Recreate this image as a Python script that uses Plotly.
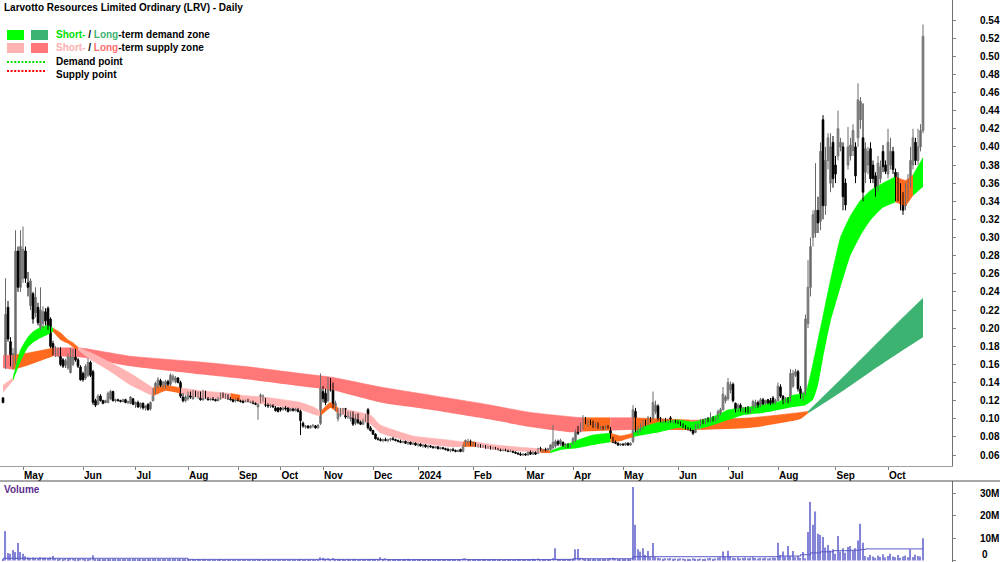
import plotly.graph_objects as go

# ---------------- DATA ----------------
# one bar per traded day, Apr 2023 .. Oct 2024 (bar index = position on axis)
open_ = [
    # Apr 2023
    .123, .160, .223, .185, .160, .165, .285, .245,
    # May
    .255, .285, .250, .225, .238, .217, .223, .201, .205, .218, .222, .210, .183, .172, .171, .177, .165, .159, .156, .151, .160, .175, .165, .157,
    # Jun
    .150, .145, .148, .162, .152, .120, .116, .125, .120, .118, .118, .122, .130, .120, .121, .120, .119, .121, .118, .117, .122,
    # Jul
    .116, .118, .113, .117, .112, .116, .111, .120, .128, .135, .142, .136, .134, .141, .138, .143, .141, .145, .140, .124, .120,
    # Aug
    .122, .128, .122, .128, .124, .128, .121, .126, .122, .121, .122, .121, .120, .122, .127, .123, .125, .122, .121, .120,
    # Sep
    .121, .120, .120, .119, .120, .118, .118, .117, .113, .118, .120, .122, .115, .114, .115, .112, .112,
    # Oct
    .112, .110, .112, .112, .109, .111, .109, .110, .108, .095, .091, .092, .090, .092, .092, .090, .095,
    # Nov
    .130, .128, .120, .142, .135, .112, .100, .104, .107, .111, .102, .100, .106, .095, .104, .096, .094, .098, .110, .090,
    # Dec
    .087, .083, .078, .077, .076, .077, .076, .077, .078, .077, .076, .075, .074, .075, .073, .074, .072, .073,
    # Jan 2024
    .071, .072, .070, .071, .069, .070, .069, .068, .069, .067, .068, .067, .066, .065, .066, .065, .064, .066, .064, .070, .073, .075,
    # Feb
    .071, .073, .070, .071, .069, .070, .068, .069, .067, .068, .067, .066, .065, .066, .065, .064, .064, .063, .062, .061, .060,
    # Mar
    .061, .060, .063, .061, .063, .062, .067, .065, .066, .065, .066, .068, .070, .075, .072, .074, .070, .072, .069,
    # Apr
    .072, .076, .090, .086, .090, .100, .093, .098, .096, .092, .095, .090, .091, .089, .092, .090, .079, .074, .073, .071,
    # May
    .072, .071, .073, .071, .075, .108, .085, .088, .090, .097, .094, .100, .100, .108, .114, .100, .097, .099, .097, .101, .097, .098,
    # Jun
    .096, .096, .093, .091, .089, .088, .087, .085, .090, .093, .097, .095, .100, .097, .101, .098, .100, .106, .110, .120,
    # Jul
    .122, .132, .138, .117, .110, .115, .108, .112, .112, .107, .110, .114, .118, .114, .121, .117, .121, .120, .123, .118,
    # Aug
    .120, .135, .125, .118, .122, .120, .136, .148, .152, .133, .125, .128, .205, .245, .300, .305, .330, .318, .430, .335, .385, .360, .405,
    # Sep
    .380, .390, .400, .400, .360, .380, .390, .396, .400, .410, .430, .410, .372, .380, .398, .380, .368, .355, .365, .395, .380,
    # Oct
    .370, .380, .395, .372, .365, .355, .345, .335, .345, .360, .380, .405, .385, .400, .418,
]
high = [
    .124, .255, .230, .190, .178, .308, .290, .308,
    .312, .290, .262, .255, .240, .245, .228, .245, .224, .222, .224, .212, .186, .180, .179, .179, .167, .166, .172, .178, .177, .177, .167, .159,
    .152, .160, .167, .164, .154, .122, .127, .127, .121, .121, .130, .132, .131, .122, .122, .121, .122, .122, .120, .125, .123,
    .119, .120, .118, .118, .115, .117, .119, .134, .141, .146, .144, .142, .143, .143, .150, .149, .147, .146, .142, .128, .126,
    .130, .130, .132, .131, .130, .130, .132, .131, .124, .123, .124, .122, .124, .129, .129, .128, .127, .124, .122, .122,
    .123, .121, .121, .121, .122, .120, .120, .118, .117, .128, .127, .123, .117, .116, .116, .114, .113,
    .113, .113, .114, .113, .112, .112, .112, .112, .110, .097, .093, .093, .093, .094, .093, .094, .150,
    .136, .133, .146, .145, .140, .120, .112, .112, .112, .112, .108, .108, .108, .105, .106, .098, .100, .105, .112, .092,
    .088, .084, .080, .079, .078, .079, .078, .079, .080, .078, .077, .077, .076, .076, .075, .075, .074, .074,
    .073, .073, .072, .072, .071, .071, .070, .070, .070, .069, .069, .068, .068, .067, .068, .066, .066, .067, .072, .077, .078, .077,
    .075, .074, .072, .072, .071, .071, .070, .070, .069, .069, .068, .067, .067, .067, .066, .066, .065, .064, .063, .063, .062,
    .062, .064, .065, .064, .064, .068, .069, .067, .068, .068, .072, .093, .077, .077, .078, .075, .073, .073, .072,
    .080, .088, .092, .096, .104, .102, .099, .099, .098, .096, .096, .092, .092, .093, .093, .091, .080, .076, .074, .073,
    .073, .074, .074, .074, .115, .112, .092, .095, .099, .099, .103, .102, .130, .120, .116, .102, .100, .101, .100, .103, .099, .099,
    .098, .097, .095, .093, .091, .090, .088, .094, .095, .100, .100, .101, .102, .107, .103, .102, .110, .112, .135, .126,
    .145, .141, .140, .118, .117, .117, .113, .113, .114, .112, .121, .121, .120, .123, .123, .121, .122, .123, .125, .122,
    .140, .138, .126, .124, .124, .155, .154, .155, .154, .136, .130, .215, .275, .300, .330, .382, .345, .405, .435, .400, .415, .415, .412,
    .390, .440, .410, .405, .365, .422, .410, .425, .405, .470, .455, .448, .405, .400, .405, .385, .372, .390, .385, .402, .385,
    .420, .410, .400, .376, .372, .360, .350, .360, .370, .400, .420, .410, .420, .425, .535,
]
low = [
    .117, .155, .185, .158, .155, .160, .240, .240,
    .250, .250, .235, .220, .205, .212, .203, .198, .200, .203, .198, .178, .170, .168, .168, .158, .156, .156, .154, .150, .158, .163, .156, .142,
    .141, .143, .146, .146, .115, .113, .115, .119, .116, .117, .117, .121, .119, .118, .119, .118, .118, .117, .116, .116, .115,
    .112, .112, .111, .110, .109, .109, .109, .119, .127, .133, .135, .134, .133, .136, .136, .140, .139, .139, .123, .118, .118,
    .120, .122, .121, .124, .122, .120, .120, .122, .120, .120, .120, .119, .119, .121, .123, .122, .121, .120, .118, .118,
    .119, .118, .117, .118, .118, .117, .116, .115, .099, .117, .119, .113, .112, .112, .112, .108, .107,
    .108, .109, .109, .107, .108, .108, .108, .107, .082, .090, .089, .089, .089, .090, .089, .089, .093,
    .118, .115, .118, .130, .112, .108, .097, .102, .105, .100, .100, .097, .092, .093, .094, .093, .093, .096, .088, .086,
    .082, .077, .076, .075, .074, .075, .074, .075, .076, .075, .074, .073, .073, .072, .071, .071, .071, .070,
    .069, .069, .068, .068, .067, .068, .067, .067, .066, .066, .066, .065, .064, .063, .064, .063, .063, .063, .063, .069, .071, .070,
    .069, .069, .068, .068, .068, .067, .067, .066, .066, .066, .065, .064, .064, .064, .063, .063, .062, .061, .060, .059, .059,
    .059, .059, .060, .060, .060, .061, .064, .063, .064, .064, .065, .066, .068, .070, .070, .069, .068, .068, .068,
    .071, .074, .082, .085, .088, .094, .091, .093, .090, .090, .089, .088, .088, .088, .089, .078, .073, .072, .070, .070,
    .070, .070, .070, .070, .073, .085, .083, .086, .088, .092, .093, .096, .099, .105, .098, .096, .095, .096, .095, .096, .095, .095,
    .094, .092, .090, .088, .087, .086, .082, .084, .089, .092, .094, .094, .096, .096, .097, .097, .099, .104, .109, .117,
    .120, .128, .118, .107, .108, .108, .107, .107, .106, .106, .109, .112, .112, .113, .115, .115, .116, .115, .116, .116,
    .119, .123, .116, .117, .117, .119, .134, .146, .130, .122, .120, .126, .200, .235, .290, .300, .305, .308, .320, .325, .375, .350, .355,
    .360, .385, .395, .330, .330, .375, .385, .390, .360, .400, .420, .340, .360, .370, .360, .360, .345, .350, .360, .372, .370,
    .365, .375, .370, .340, .340, .330, .325, .330, .340, .355, .375, .380, .380, .395, .415,
]
close = [
    .118, .215, .188, .162, .172, .285, .245, .290,
    .287, .255, .245, .252, .210, .234, .206, .220, .218, .208, .200, .180, .172, .177, .176, .160, .158, .164, .170, .176, .175, .165, .158, .143,
    .143, .158, .162, .148, .118, .115, .125, .120, .117, .120, .128, .130, .120, .121, .120, .119, .121, .118, .119, .124, .116,
    .118, .113, .117, .112, .114, .110, .118, .132, .139, .143, .137, .140, .141, .138, .148, .147, .145, .140, .125, .120, .124,
    .128, .124, .130, .125, .128, .121, .130, .123, .121, .122, .121, .120, .123, .127, .124, .127, .122, .121, .119, .121,
    .120, .119, .118, .120, .119, .118, .117, .116, .116, .126, .125, .115, .114, .115, .113, .109, .108,
    .110, .112, .111, .108, .111, .109, .111, .108, .098, .092, .092, .090, .092, .093, .090, .093, .135,
    .122, .118, .140, .132, .114, .117, .110, .110, .111, .102, .106, .106, .094, .104, .096, .094, .098, .104, .090, .087,
    .083, .078, .077, .076, .077, .076, .077, .078, .077, .076, .075, .074, .075, .073, .074, .072, .073, .071,
    .072, .070, .071, .069, .070, .069, .068, .069, .067, .068, .067, .066, .065, .066, .065, .064, .065, .064, .071, .076, .075, .071,
    .073, .070, .071, .069, .070, .068, .069, .067, .068, .067, .066, .065, .066, .065, .064, .065, .063, .062, .061, .060, .061,
    .060, .063, .061, .063, .061, .067, .065, .066, .065, .067, .071, .074, .075, .072, .076, .070, .072, .069, .071,
    .078, .087, .084, .094, .100, .096, .098, .095, .092, .094, .090, .091, .089, .092, .090, .079, .074, .073, .071, .072,
    .071, .073, .071, .073, .110, .088, .090, .093, .097, .094, .101, .098, .118, .115, .100, .098, .099, .097, .098, .097, .098, .096,
    .095, .093, .091, .089, .088, .087, .084, .092, .094, .098, .095, .100, .097, .101, .098, .100, .108, .110, .127, .124,
    .140, .138, .120, .110, .115, .110, .112, .109, .107, .110, .119, .118, .113, .121, .116, .120, .117, .116, .118, .120,
    .136, .125, .118, .122, .119, .150, .150, .152, .133, .125, .128, .210, .245, .290, .325, .330, .316, .395, .335, .385, .410, .400, .365,
    .370, .420, .405, .345, .336, .400, .402, .418, .368, .452, .450, .350, .398, .395, .365, .365, .350, .382, .378, .378, .373,
    .405, .395, .375, .345, .345, .338, .330, .355, .360, .385, .410, .385, .400, .418, .522,
]
# volume, millions of shares
volume_m = [
    0.8, 13.2, 3.4, 3.0, 4.7, 3.8, 7.9, 3.8,
    3.0, 1.9, 1.3, 1.1, 1.4, 1.2, 1.0, 1.5, 1.2, 1.3, 1.1, 1.4, 2.0, 0.9, 0.8, 1.0, 0.7, 0.9, 0.8, 1.1, 0.9, 0.7, 0.8, 1.0,
    0.9, 0.8, 0.7, 0.9, 2.4, 0.6, 0.5, 0.4, 0.5, 0.3, 0.6, 0.5, 0.4, 0.3, 0.4, 0.5, 0.3, 0.4, 0.5, 0.4, 0.3,
    0.4, 0.5, 0.3, 0.4, 0.3, 0.4, 0.5, 0.6, 0.5, 0.4, 0.3, 0.4, 0.3, 0.5, 0.4, 0.3, 0.4, 0.3, 0.6, 0.4, 0.3,
    0.3, 0.2, 0.3, 0.2, 0.3, 0.2, 0.4, 0.2, 0.2, 0.1, 0.2, 0.1, 0.2, 0.3, 0.2, 0.2, 0.1, 0.2, 0.1, 0.2,
    0.1, 0.2, 0.1, 0.2, 0.1, 0.1, 0.2, 0.1, 0.5, 0.2, 0.2, 0.1, 0.2, 0.1, 0.2, 0.1, 0.2,
    0.1, 0.2, 0.1, 0.2, 0.1, 0.2, 0.1, 0.2, 0.5, 0.2, 0.1, 0.2, 0.1, 0.2, 0.1, 0.2, 1.4,
    1.2, 0.8, 1.0, 0.6, 1.1, 0.5, 0.3, 0.4, 0.3, 0.2, 0.3, 0.2, 0.4, 0.3, 0.2, 0.3, 0.2, 0.3, 0.6, 0.3,
    0.4, 0.3, 0.5, 1.5, 0.8, 1.0, 0.6, 0.5, 0.7, 0.5, 0.4, 0.6, 0.5, 0.7, 0.8, 0.5, 0.4, 0.3,
    0.3, 0.4, 0.3, 0.5, 0.4, 0.3, 0.4, 0.3, 0.5, 0.4, 0.3, 0.4, 0.3, 0.4, 0.3, 0.4, 0.5, 0.4, 0.9, 1.0, 0.6, 0.5,
    0.4, 0.3, 0.4, 0.3, 0.4, 0.3, 0.2, 0.3, 0.4, 0.3, 0.2, 0.3, 0.2, 0.3, 0.2, 0.3, 0.2, 0.3, 0.4, 0.3, 0.2,
    0.3, 0.4, 0.3, 0.8, 0.5, 0.9, 0.4, 0.3, 0.5, 0.4, 0.6, 1.0, 5.5, 0.7, 0.6, 0.5, 0.6, 0.5, 0.6,
    0.8, 5.0, 5.2, 1.2, 1.0, 0.8, 0.6, 0.5, 0.7, 0.6, 0.5, 0.6, 0.5, 0.7, 0.8, 1.0, 1.2, 0.9, 0.7, 0.6,
    0.5, 0.6, 0.7, 0.8, 33.0, 16.0, 5.0, 4.0, 5.5, 2.5, 4.3, 1.5, 7.8, 1.5, 1.2, 1.0, 0.8, 1.0, 0.9, 1.1, 0.8, 0.9,
    0.8, 1.0, 0.9, 0.7, 0.8, 0.6, 1.0, 0.8, 0.7, 0.9, 0.6, 0.8, 1.0, 1.2, 0.8, 0.9, 1.3, 1.5, 4.0, 1.5,
    4.4, 1.8, 1.2, 1.0, 1.4, 0.9, 1.1, 1.3, 1.0, 1.2, 1.5, 1.1, 0.9, 1.2, 1.0, 1.3, 0.9, 1.1, 1.4, 1.2,
    8.0, 2.5, 4.0, 1.8, 6.5, 2.0, 4.3, 1.5, 2.0, 1.2, 3.8, 1.0, 12.8, 26.3, 16.0, 22.0, 12.0, 11.5, 10.5, 5.8, 7.0, 4.5, 5.0,
    3.0, 11.0, 4.0, 5.5, 3.5, 6.0, 6.5, 4.5, 5.5, 9.0, 16.5, 8.0, 2.0, 1.5, 2.5, 1.8, 1.2, 2.2, 1.6, 2.8, 1.4,
    2.0, 3.0, 1.8, 1.5, 2.5, 1.2, 1.8, 2.2, 1.5, 5.0, 1.6, 2.6, 2.0, 1.8, 10.0,
]
# volume average line (bar, millions)
vol_avg_bar = [0, 64, 74, 150, 219, 228, 252, 311, 319, 323, 327, 332, 339, 343, 345, 368]
vol_avg_m = [1.0, 1.0, 0.5, 0.4, 0.5, 0.8, 1.7, 2.0, 2.6, 3.4, 3.9, 4.4, 4.6, 4.9, 5.2, 5.2]

# month axis: first bar of each month and its label
month_first_bar = [8, 32, 53, 74, 94, 111, 128, 148, 166, 188, 209, 228, 248, 270, 290, 310, 333, 354]
month_labels = ["May", "Jun", "Jul", "Aug", "Sep", "Oct", "Nov", "Dec", "2024", "Feb",
                "Mar", "Apr", "May", "Jun", "Jul", "Aug", "Sep", "Oct"]
price_ticks = [0.06, 0.08, 0.10, 0.12, 0.14, 0.16, 0.18, 0.20, 0.22, 0.24, 0.26, 0.28, 0.30,
               0.32, 0.34, 0.36, 0.38, 0.40, 0.42, 0.44, 0.46, 0.48, 0.50, 0.52, 0.54]
vol_ticks = [0, 10e6, 20e6, 30e6]
vol_tick_labels = ["0", "10M", "20M", "30M"]

# long-term zone: edges at knot bars and colour runs
long_bar = [0, 4, 11, 20, 31, 51, 79, 99, 119, 131, 151, 171, 191, 211, 228, 232, 243, 252,
            275, 279, 299, 319, 322, 335, 347, 359, 368]
long_hi = [.170, .170, .173, .178, .178, .169, .1626, .157, .150, .146, .135, .126, .117, .107, .102, .101,
           .101, .101, .0986, .0986, .101, .107, .108, .143, .176, .209, .233]
long_lo = [.156, .154, .160, .169, .168, .158, .149, .143, .136, .132, .118, .110, .101, .091, .085, .086,
           .087, .088, .0876, .0876, .090, .0997, .106, .129, .152, .174, .190]
long_runs = [(0, 4, "R"), (4, 20, "o"), (20, 232, "R"), (232, 243, "o"), (243, 252, "R"),
             (252, 275, "o"), (275, 279, "R"), (279, 322, "o"), (322, 368, "G")]

# short-term zone
short_bar = [0, 4, 7, 10, 12, 15, 18, 20, 23, 26, 28, 30, 35, 43, 51, 60, 65, 71, 79, 91, 95, 107, 119,
             125, 127, 131, 134, 147, 151, 164, 178, 184, 189, 197, 211, 215, 219, 223, 230, 236, 243,
             247, 252, 256, 263, 270, 276, 283, 290, 296, 303, 310, 316, 321, 324, 326, 328, 331, 335,
             339, 343, 347, 352, 357, 361, 364, 368]
short_hi = [.137, .145, .176, .190, .196, .201, .203, .200, .195, .187, .184, .179, .173, .162, .150, .134,
            .137, .134, .131, .128, .126, .123, .118, .112, .108, .118, .112, .104, .093, .081, .0766,
            .0744, .0744, .071, .0677, .0666, .0644, .0688, .0766, .082, .084, .081, .084, .091, .0965,
            .0986, .0965, .1008, .1097, .112, .115, .1185, .126, .129, .161, .187, .213, .253, .300,
            .324, .341, .352, .360, .367, .363, .369, .388]
short_lo = [.129, .142, .163, .179, .184, .189, .193, .196, .187, .183, .179, .176, .165, .152, .137, .125,
            .131, .128, .123, .122, .120, .115, .110, .104, .103, .112, .106, .094, .084, .074, .069,
            .069, .069, .0655, .0633, .0622, .0622, .0655, .0677, .071, .074, .0755, .080, .082, .0854,
            .090, .0876, .092, .0986, .104, .106, .1097, .113, .115, .121, .137, .167, .207, .245,
            .280, .302, .319, .333, .339, .335, .346, .356]
short_runs = [(0, 4, "p"), (4, 20, "g"), (20, 30, "o"), (30, 60, "p"), (60, 71, "o"), (71, 91, "p"),
              (91, 95, "o"), (95, 127, "p"), (127, 134, "o"), (134, 184, "p"), (184, 189, "o"),
              (189, 215, "p"), (215, 219, "o"), (219, 243, "g"), (243, 252, "o"), (252, 357, "g"),
              (357, 364, "o"), (364, 368, "g")]

# ---------------- STYLE ----------------
W, H = 1000, 562
ZONE_COL = {"g": "#00ff00", "G": "#3cb371", "p": "#ffb3b3", "R": "#ff7777", "o": "#ff6a1e"}
FONT = "Liberation Sans, Arial, sans-serif"
PLOT_RIGHT = 952      # px, right price axis
PRICE_BOTTOM = 466    # px, bottom of price pane
VOL_TOP = 481         # px, top of volume pane
BAR0_PX, BAR_PX = 3, 2.5
UP_FILL, UP_LINE, DOWN_COL = "#a6a6a6", "#6a6a6a", "#000000"
MIN_BODY = 0.0008


def fx(px):
    return px / W


def fy(py):
    return 1 - py / H


bars = list(range(len(close)))
volume = [v * 1e6 for v in volume_m]
vol_avg = [v * 1e6 for v in vol_avg_m]

fig = go.Figure()


def add_band(knots, hi, lo, runs, smooth):
    for s, e, c in runs:
        idx = [i for i, b in enumerate(knots) if s <= b <= e]
        xs = [knots[i] for i in idx]
        fig.add_trace(go.Scatter(x=xs, y=[lo[i] for i in idx], mode="lines",
                                 line=dict(width=0, shape="spline", smoothing=smooth),
                                 hoverinfo="skip", showlegend=False))
        fig.add_trace(go.Scatter(x=xs, y=[hi[i] for i in idx], mode="lines",
                                 line=dict(width=0.6, shape="spline", smoothing=smooth, color=ZONE_COL[c]),
                                 fill="tonexty", fillcolor=ZONE_COL[c],
                                 hoverinfo="skip", showlegend=False))


add_band(long_bar, long_hi, long_lo, long_runs, 0.5)
add_band(short_bar, short_hi, short_lo, short_runs, 0.4)

# candles: wicks (lines) and bodies (bars with a base)
up = [c >= o for o, c in zip(open_, close)]
for is_up, wcol in ((True, UP_LINE), (False, DOWN_COL)):
    wx, wy = [], []
    for i in bars:
        if up[i] == is_up:
            wx += [i, i, None]
            wy += [low[i], high[i], None]
    fig.add_trace(go.Scatter(x=wx, y=wy, mode="lines", line=dict(color=wcol, width=1),
                             hoverinfo="skip", showlegend=False))
for is_up in (True, False):
    bx = [i for i in bars if up[i] == is_up]
    base = [min(open_[i], close[i]) for i in bx]
    hgt = [max(abs(close[i] - open_[i]), MIN_BODY) for i in bx]
    if is_up:
        mk = dict(color=UP_FILL, line=dict(color=UP_LINE, width=0.7))
    else:
        mk = dict(color=DOWN_COL, line=dict(color=DOWN_COL, width=0.7))
    fig.add_trace(go.Bar(x=bx, y=hgt, base=base, width=0.75, marker=mk,
                         hoverinfo="skip", showlegend=False))

fig.add_trace(go.Bar(x=bars, y=volume, width=0.45, marker=dict(color="#8585d8", line=dict(width=0)),
                     xaxis="x2", yaxis="y2", showlegend=False, hoverinfo="skip"))
fig.add_trace(go.Scatter(x=vol_avg_bar, y=vol_avg, mode="lines", line=dict(color="#5a5ac6", width=1, shape="hv"),
                         xaxis="x2", yaxis="y2", showlegend=False, hoverinfo="skip"))

x_range = [(0 - BAR0_PX) / BAR_PX, (PLOT_RIGHT - BAR0_PX) / BAR_PX]
p_top = 0.54 + 20 * 0.48 / 435
p_bot = 0.54 - (PRICE_BOTTOM - 20) * 0.48 / 435
v_top = (560.5 - VOL_TOP) / 22.3 * 10e6
v_bot = (560.5 - H) / 22.3 * 10e6

tickfont = dict(family=FONT, size=10, color="#000000", weight="bold")

# the zero volume label sits on the bottom edge; it is drawn a few px higher so it stays whole
vol_axis_text = [t if v != 0 else "" for v, t in zip(vol_ticks, vol_tick_labels)]

fig.update_layout(
    width=W, height=H, margin=dict(l=0, r=0, t=0, b=0, pad=0),
    paper_bgcolor="white", plot_bgcolor="white", showlegend=False, hovermode=False,
    barmode="overlay",
    font=dict(family=FONT, size=10, color="#000000"),
    xaxis=dict(domain=[0, fx(PLOT_RIGHT)], range=x_range, anchor="y",
               tickmode="array", tickvals=month_first_bar, ticktext=month_labels,
               ticks="outside", ticklen=3, tickcolor="#808080", tickwidth=1,
               ticklabelposition="outside right", tickfont=tickfont,
               showline=True, linecolor="#a0a0a0", linewidth=1, mirror=False,
               showgrid=False, zeroline=False, automargin=False),
    yaxis=dict(domain=[fy(PRICE_BOTTOM), 1], range=[p_bot, p_top], side="right", anchor="x",
               tickmode="array", tickvals=price_ticks, tickformat=".2f",
               ticks="outside", ticklen=3, tickcolor="#808080", tickfont=tickfont,
               ticklabelstandoff=22,
               showline=True, linecolor="#707070", linewidth=1,
               showgrid=False, zeroline=False, automargin=False),
    xaxis2=dict(domain=[0, fx(PLOT_RIGHT)], range=x_range, anchor="y2", matches="x",
                showticklabels=False, ticks="", showline=False, showgrid=False, zeroline=False,
                automargin=False),
    yaxis2=dict(domain=[0, fy(VOL_TOP)], range=[v_bot, v_top], side="right", anchor="x2",
                tickmode="array", tickvals=vol_ticks, ticktext=vol_axis_text,
                ticks="outside", ticklen=3, tickcolor="#808080", tickfont=tickfont,
                ticklabelstandoff=22,
                showline=True, linecolor="#707070", linewidth=1,
                showgrid=False, zeroline=False, automargin=False),
)

shapes = [
    # full-width top border of the volume pane
    dict(type="line", xref="paper", yref="paper", x0=0, x1=1, y0=fy(VOL_TOP), y1=fy(VOL_TOP),
         line=dict(color="#505050", width=1)),
    # legend swatches
    dict(type="rect", xref="paper", yref="paper", x0=fx(7), x1=fx(24), y0=fy(40), y1=fy(30),
         fillcolor=ZONE_COL["g"], line=dict(width=0)),
    dict(type="rect", xref="paper", yref="paper", x0=fx(31), x1=fx(48), y0=fy(40), y1=fy(30),
         fillcolor=ZONE_COL["G"], line=dict(width=0)),
    dict(type="rect", xref="paper", yref="paper", x0=fx(7), x1=fx(24), y0=fy(53), y1=fy(43),
         fillcolor=ZONE_COL["p"], line=dict(width=0)),
    dict(type="rect", xref="paper", yref="paper", x0=fx(31), x1=fx(48), y0=fy(53), y1=fy(43),
         fillcolor=ZONE_COL["R"], line=dict(width=0)),
    dict(type="line", xref="paper", yref="paper", x0=fx(7), x1=fx(45), y0=fy(62), y1=fy(62),
         line=dict(color="#00e000", width=2, dash="2px,1.6px")),
    dict(type="line", xref="paper", yref="paper", x0=fx(7), x1=fx(45), y0=fy(71), y1=fy(71),
         line=dict(color="#ff0000", width=2, dash="2px,1.6px")),
]
fig.update_layout(shapes=shapes)

ann_font = dict(family=FONT, size=10, color="#000000", weight="bold")


def note(text, x, y, color="#000000"):
    f = dict(ann_font)
    f["color"] = color
    return dict(text=text, xref="paper", yref="paper", x=fx(x), y=fy(y), xanchor="left",
                yanchor="middle", showarrow=False, font=f)


fig.update_layout(annotations=[
    note("Larvotto Resources Limited Ordinary (LRV) - Daily", 2, 7),
    note('<span style="color:#00e000">Short-</span> / <span style="color:#3cb371">Long</span>-term demand zone', 54, 35),
    note('<span style="color:#ffb0b0">Short-</span> / <span style="color:#ff6e6e">Long</span>-term supply zone', 54, 48),
    note("Demand point", 54, 62),
    note("Supply point", 54, 74),
    note("Volume", 2, 489, color="#5c2d91"),
    note(vol_tick_labels[0], 980, 554),
])

fig.write_html("out.html", config=dict(displayModeBar=False))
